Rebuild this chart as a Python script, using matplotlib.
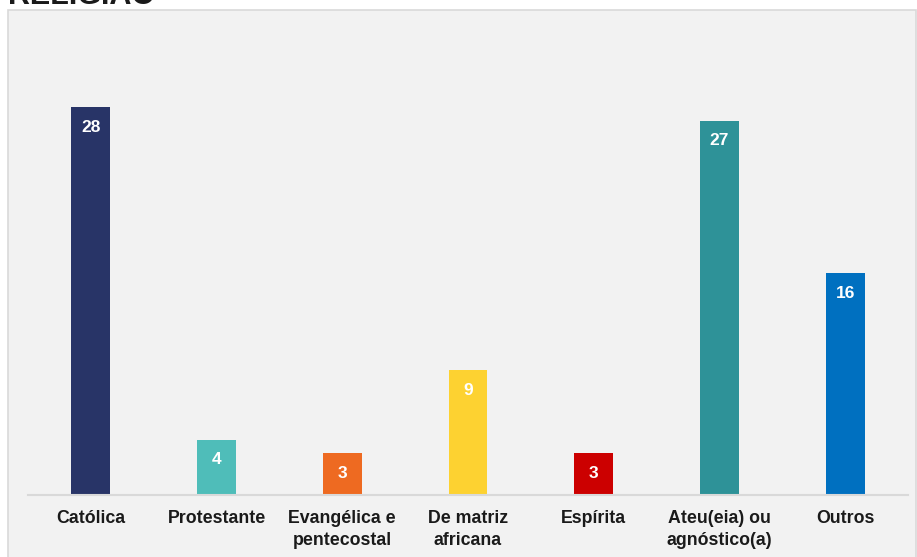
import matplotlib.pyplot as plt
from matplotlib.patches import Rectangle

plt.rcParams['font.family'] = ['Liberation Sans', 'DejaVu Sans']

categorias = ['Católica', 'Protestante', 'Evangélica e\npentecostal', 'De matriz\nafricana',
              'Espírita', 'Ateu(eia) ou\nagnóstico(a)', 'Outros']
valores = [28, 4, 3, 9, 3, 27, 16]
cores = ['#283467', '#4fbdb9', '#ee6a21', '#fdd231', '#cc0000', '#2e9298', '#0070c0']

W, H = 917, 557
fig = plt.figure(figsize=(W / 100, H / 100), dpi=100)
fig.patch.set_facecolor('white')

# painel cinza (corta na borda de baixo)
fig.patches.append(Rectangle((8 / W, -0.1), (916 - 8) / W, 1.1 - 10 / H,
                             transform=fig.transFigure, facecolor='#f2f2f2',
                             edgecolor='#d9d9d9', linewidth=1.2, zorder=-1))
fig.text(8 / W, 1 - 4 / H, 'RELIGIÃO', fontsize=22, fontweight='bold',
         color='#1a1a1a', va='baseline', ha='left')

# eixo: base em y=495px, 13.86 px por unidade
ymax = 30
x0, x1 = 28, 908
yb = 495
ytop = yb - ymax * 13.86
ax = fig.add_axes([x0 / W, 1 - yb / H, (x1 - x0) / W, (yb - ytop) / H])
ax.set_facecolor('none')
ax.set_zorder(2)

pos = range(len(categorias))
bars = ax.bar(pos, valores, width=0.31, color=cores, zorder=2)
for b, v in zip(bars, valores):
    ax.annotate(str(v), (b.get_x() + b.get_width() / 2, v), xytext=(0, -14.5),
                textcoords='offset points', ha='center', va='center',
                color='white', fontsize=12.5, fontweight='bold')

ax.set_xlim(-0.5, len(categorias) - 0.5)
ax.set_ylim(0, ymax)
ax.set_yticks([])
ax.set_xticks(list(pos))
ax.set_xticklabels(categorias, fontsize=12.8, fontweight='bold', color='#1a1a1a',
                   linespacing=1.35, va='top')
ax.tick_params(axis='x', length=0, pad=11)
for s in ['top', 'right', 'left']:
    ax.spines[s].set_visible(False)
ax.spines['bottom'].set_color('#d9d9d9')
ax.spines['bottom'].set_linewidth(1.5)

fig.savefig('out.png', dpi=100)
